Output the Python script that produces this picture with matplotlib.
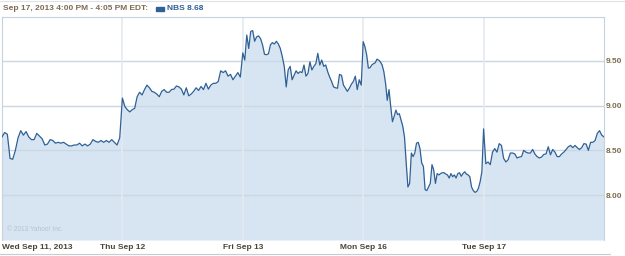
import matplotlib
matplotlib.use('Agg')
import matplotlib.pyplot as plt
from matplotlib.lines import Line2D
from matplotlib.patches import Rectangle
import numpy as np

plt.rcParams['font.family'] = ['Liberation Sans', 'DejaVu Sans']

# NBS price, one list per trading day (5-minute-ish readings)
wed = [8.65, 8.70, 8.68, 8.41, 8.40, 8.50, 8.64, 8.72, 8.67, 8.71, 8.65, 8.62, 8.62,
       8.69, 8.66, 8.63, 8.56, 8.57, 8.62, 8.61, 8.58, 8.59, 8.58, 8.59, 8.57, 8.55,
       8.55, 8.56, 8.56, 8.58, 8.55, 8.57, 8.55, 8.57, 8.62, 8.60, 8.59, 8.61, 8.59,
       8.61, 8.59, 8.62, 8.59, 8.56, 8.64]
thu = [9.085, 8.99, 8.955, 8.93, 8.955, 8.97, 9.10, 9.15, 9.12, 9.18, 9.23, 9.20, 9.16,
       9.15, 9.13, 9.10, 9.16, 9.18, 9.15, 9.15, 9.18, 9.185, 9.22, 9.21, 9.185, 9.12,
       9.20, 9.11, 9.13, 9.16, 9.20, 9.17, 9.215, 9.18, 9.25, 9.185, 9.23, 9.25, 9.25,
       9.27, 9.39, 9.37, 9.39, 9.33, 9.35, 9.29, 9.33, 9.37, 9.32]
fri = [9.59, 9.51, 9.79, 9.64, 9.83, 9.84, 9.72, 9.77, 9.78, 9.75, 9.68, 9.575, 9.57,
       9.58, 9.68, 9.705, 9.69, 9.72, 9.69, 9.64, 9.55, 9.44, 9.21, 9.40, 9.44, 9.29,
       9.34, 9.39, 9.36, 9.38, 9.37, 9.455, 9.33, 9.36, 9.49, 9.40, 9.44, 9.47, 9.585,
       9.455, 9.51, 9.44, 9.455, 9.38, 9.32, 9.27, 9.21, 9.20, 9.195, 9.35, 9.34, 9.23,
       9.195, 9.16, 9.195, 9.24, 9.27, 9.33, 9.18, 9.29, 9.23]
mon = [9.716, 9.66, 9.57, 9.42, 9.425, 9.455, 9.47, 9.48, 9.52, 9.51, 9.49, 9.455, 9.38,
       9.25, 9.06, 9.18, 8.99, 8.82, 8.88, 8.95, 8.90, 8.91, 8.84, 8.77, 8.65, 8.36,
       8.09, 8.13, 8.47, 8.43, 8.47, 8.58, 8.59, 8.52, 8.36, 8.32, 8.06, 8.05, 8.09,
       8.13, 8.34, 8.28, 8.13, 8.24, 8.225, 8.24, 8.25, 8.25, 8.235, 8.225, 8.19, 8.24,
       8.205, 8.225, 8.19, 8.24, 8.25, 8.21, 8.24, 8.26, 8.235, 8.225, 8.205, 8.09,
       8.05, 8.03, 8.04, 8.075, 8.15, 8.26]
tue = [8.74, 8.35, 8.37, 8.34, 8.48, 8.52, 8.48, 8.575, 8.555, 8.41, 8.37, 8.395, 8.47,
       8.47, 8.46, 8.415, 8.425, 8.43, 8.50, 8.48, 8.47, 8.47, 8.51, 8.46, 8.43, 8.415,
       8.425, 8.455, 8.46, 8.54, 8.45, 8.51, 8.48, 8.43, 8.43, 8.46, 8.48, 8.51, 8.54,
       8.555, 8.53, 8.555, 8.53, 8.51, 8.53, 8.575, 8.57, 8.50, 8.59, 8.59, 8.61, 8.69,
       8.72, 8.67, 8.65]

DAYS = [wed, thu, fri, mon, tue]
DAY_LABELS = ['Wed Sep 11, 2013', 'Thu Sep 12', 'Fri Sep 13', 'Mon Sep 16', 'Tue Sep 17']
Y_TICKS = [8.00, 8.50, 9.00, 9.50]

x = np.concatenate([np.linspace(i, i + 1, len(d), endpoint=(i == len(DAYS) - 1))
                    for i, d in enumerate(DAYS)])
y = np.concatenate([np.array(d) for d in DAYS])

W, H = 625, 256
fig = plt.figure(figsize=(W / 100, H / 100), dpi=100)
ax = fig.add_axes([2 / W, 1 - 240 / H, 602 / W, 223 / H])
ymin, ymax = 7.497, 9.992
ax.set_xlim(0, 5)
ax.set_ylim(ymin, ymax)

ax.fill_between(x, y, ymin, color='#d6e5f1', lw=0, zorder=1)
ax.plot(x, y, color='#2f6096', lw=0.9, zorder=3)

for v in Y_TICKS:
    ax.axhline(v, color='#cbd7e2', lw=1.0, zorder=2)
for d in range(1, 5):
    ax.axvline(d, color='#e3eaf1', lw=1.2, zorder=2)

for side in ['left', 'right', 'top']:
    ax.spines[side].set_color('#c8d2dc')
    ax.spines[side].set_linewidth(0.8)
ax.spines['bottom'].set_visible(False)

ax.yaxis.tick_right()
ax.set_yticks(Y_TICKS, ['%.2f' % v for v in Y_TICKS])
ax.set_xticks(range(5), DAY_LABELS)
ax.tick_params(axis='y', length=0, pad=1.5, labelsize=6, labelcolor='#7d6b52')
ax.tick_params(axis='x', length=0, pad=3, labelsize=6, labelcolor='#4b4536')
for lab in ax.get_xticklabels() + ax.get_yticklabels():
    lab.set_fontweight('bold')
ax.get_xticklabels()[0].set_horizontalalignment('left')

ax.text(0.008, 0.04, '\u00a9 2013 Yahoo! Inc.', transform=ax.transAxes,
        fontsize=4.8, color='#b3c3d1', zorder=4)

# header
fig.text(3 / W, 1 - 9 / H, 'Sep 17, 2013 4:00 PM - 4:05 PM EDT:', fontsize=6,
         fontweight='bold', color='#7d6b52', va='center')
fig.patches.append(Rectangle((156 / W, 1 - 11 / H), 8 / W, 4 / H, transform=fig.transFigure,
                             color='#2f6096', figure=fig))
fig.text(167 / W, 1 - 9 / H, 'NBS 8.68', fontsize=6, fontweight='bold',
         color='#2f6096', va='center')

fig.lines.append(Line2D([0, 1], [1 - 0.5 / H, 1 - 0.5 / H], transform=fig.transFigure,
                        color='#dde3e8', lw=0.8))
fig.lines.append(Line2D([0, 610 / W], [1 - 254 / H, 1 - 254 / H], transform=fig.transFigure,
                        color='#c8ccd0', lw=0.8))

fig.savefig('out.png', dpi=100)
